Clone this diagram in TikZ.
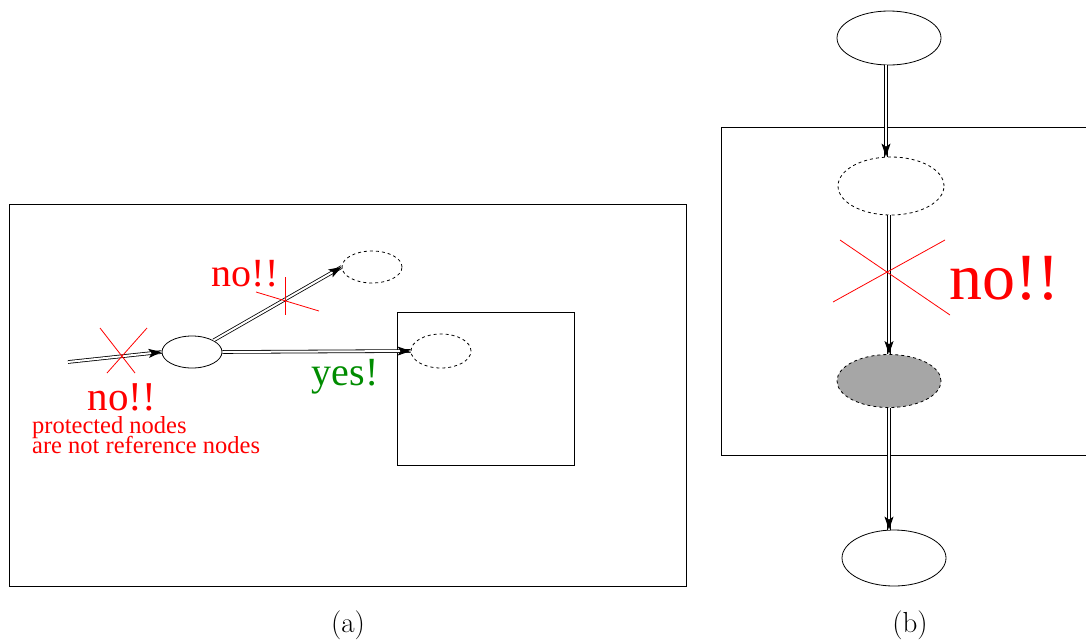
\documentclass[tikz,border=0pt]{standalone}
\usepackage{fontspec}
\newfontfamily\tms{Liberation Serif}
\usetikzlibrary{arrows.meta,shapes.geometric,calc}
\definecolor{okgreen}{RGB}{0,140,0}
\definecolor{protgray}{RGB}{166,166,166}
\tikzset{
  box/.style={draw=black, line width=0.8pt},
  plainell/.style={draw=black, ellipse, line width=0.8pt, inner sep=0pt},
  dashell/.style={draw=black, ellipse, dashed, line width=0.8pt, inner sep=0pt},
  dbl/.style={double=white, double distance=2pt, line width=0.8pt},
  tip/.style={line width=1pt, -{Stealth[length=13pt,width=9pt,inset=3pt]}},
  cross/.style={draw=red, line width=0.8pt},
  redtxt/.style={text=red, inner sep=0pt, font=\tms},
}
\newcommand{\dblarrow}[2]{\draw[dbl] (#1) -- (#2); \draw[tip] ($(#2)!8pt!(#1)$) -- (#2);}
\begin{document}
\begin{tikzpicture}[x=1pt,y=-1pt]
\useasboundingbox (0,0) rectangle (1086,643);
% (a)
\draw[box] (9,204) rectangle (686,586);
\draw[box] (397,312) rectangle (574,465);
\node[plainell, minimum width=60pt, minimum height=32pt] (src) at (192,352) {};
\node[dashell, minimum width=60pt, minimum height=32pt] (tgtA) at (372,267) {};
\node[dashell, minimum width=60pt, minimum height=34pt] (tgtB) at (441,351) {};
\coordinate (inA) at (68,362);
\dblarrow{inA}{src.west}
\dblarrow{src.north east}{tgtA.west}
\dblarrow{src.east}{tgtB.west}
\coordinate (x1a) at (100,328); \coordinate (x1b) at (135,373);
\coordinate (x1c) at (147,328); \coordinate (x1d) at (107,373);
\draw[cross] (x1a) -- (x1b);
\draw[cross] (x1c) -- (x1d);
\coordinate (x2a) at (256,292); \coordinate (x2b) at (319,311);
\coordinate (x2c) at (285,277); \coordinate (x2d) at (285,315);
\draw[cross] (x2a) -- (x2b);
\draw[cross] (x2c) -- (x2d);
\node[redtxt, font=\tms\fontsize{41}{42}\selectfont, anchor=base] (noA) at (122,410) {no!!};
\node[redtxt, font=\tms\fontsize{24.5}{26}\selectfont, anchor=base west] (prot1) at (32,433) {protected nodes};
\node[redtxt, font=\tms\fontsize{24.5}{26}\selectfont, anchor=base west] (prot2) at (32,453) {are not reference nodes};
\node[redtxt, font=\tms\fontsize{40}{42}\selectfont, anchor=base] (noB) at (245,286) {no!!};
\node[text=okgreen, inner sep=0pt, font=\tms\fontsize{40}{42}\selectfont] (yes) at (345,377) {yes!};
\node[inner sep=0pt, font=\fontsize{29}{31}\selectfont] (capA) at (348,625) {(a)};
% (b)
\draw[box] (1090,127) -- (721,127) -- (721,455) -- (1090,455);
\node[plainell, minimum width=104pt, minimum height=54pt] (top) at (889,38) {};
\node[dashell, minimum width=106pt, minimum height=58pt] (mid) at (891,186) {};
\node[dashell, fill=protgray, minimum width=104pt, minimum height=53pt] (prot) at (889,381) {};
\node[plainell, minimum width=104pt, minimum height=56pt] (bot) at (894,558) {};
\coordinate (e1) at (top.south -| 886,0); \coordinate (e2) at (mid.north -| 886,0);
\coordinate (e3) at (mid.south -| 889,0); \coordinate (e4) at (bot.north -| 889,0);
\dblarrow{e1}{e2}
\dblarrow{e3}{prot.north}
\dblarrow{prot.south}{e4}
\coordinate (x3a) at (833,302); \coordinate (x3b) at (945,240);
\coordinate (x3c) at (840,240); \coordinate (x3d) at (950,315);
\draw[cross] (x3a) -- (x3b);
\draw[cross] (x3c) -- (x3d);
\node[redtxt, font=\tms\fontsize{66}{68}\selectfont, anchor=west] (noC) at (949,278) {no!!};
\node[inner sep=0pt, font=\fontsize{29}{31}\selectfont] (capB) at (910,625) {(b)};
\end{tikzpicture}
\end{document}
